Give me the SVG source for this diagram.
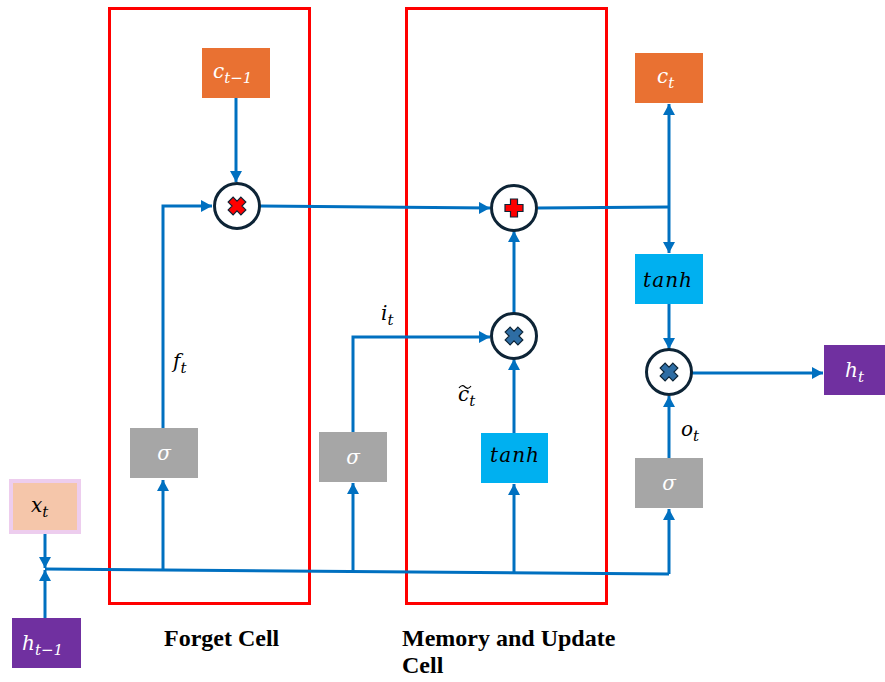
<svg xmlns="http://www.w3.org/2000/svg" width="885" height="682" viewBox="0 0 885 682">
  <style>
    .wire { fill: none; stroke: #0070C0; stroke-width: 3; }
    .cell { fill: none; stroke: #FF0000; stroke-width: 3; }
    .op { fill: #FFFFFF; stroke: #0D2436; stroke-width: 3; }
    .orange { fill: #E97132; }
    .gray { fill: #A6A6A6; }
    .cyan { fill: #00B0F0; }
    .purple { fill: #7030A0; }
    .math { font-family: "DejaVu Serif", "Liberation Serif", serif; font-style: italic; font-size: 20px; }
    .sub { font-size: 15px; }
    .white { fill: #FFFFFF; }
    .black { fill: #000000; }
    .caption { font-family: "Liberation Serif", "Times New Roman", serif; font-weight: bold; font-size: 24px; fill: #000000; }
  </style>
  <defs>
    <marker id="arrow" markerUnits="userSpaceOnUse" markerWidth="12" markerHeight="12" refX="11" refY="6" orient="auto">
      <path d="M0,0 L11,6 L0,12 z" fill="#0070C0"/>
    </marker>
    <polygon id="plusShape" points="-3.5,-9 3.5,-9 3.5,-3.5 9,-3.5 9,3.5 3.5,3.5 3.5,9 -3.5,9 -3.5,3.5 -9,3.5 -9,-3.5 -3.5,-3.5" stroke="#0D2436" stroke-width="1.2"/>
  </defs>

  <!-- cell outlines -->
  <g id="forget-cell">
    <rect class="cell" x="109.5" y="8.5" width="200" height="595"/>
    <text class="caption" x="164" y="646">Forget Cell</text>
  </g>
  <g id="memory-cell">
    <rect class="cell" x="406.5" y="8.5" width="200" height="595"/>
    <text class="caption" x="402" y="646">Memory and Update</text>
    <text class="caption" x="402" y="673">Cell</text>
  </g>

  <!-- connectors -->
  <g id="connectors">
    <path class="wire" d="M236,98 V182" marker-end="url(#arrow)"/>
    <path class="wire" d="M163,428 V206 H212" marker-end="url(#arrow)"/>
    <path class="wire" d="M260,206 L490,208" marker-end="url(#arrow)"/>
    <path class="wire" d="M538,208 L669,207"/>
    <path class="wire" d="M669,207 V104" marker-end="url(#arrow)"/>
    <path class="wire" d="M669,207 V253" marker-end="url(#arrow)"/>
    <path class="wire" d="M669,304 V349" marker-end="url(#arrow)"/>
    <path class="wire" d="M692,373 H823" marker-end="url(#arrow)"/>
    <path class="wire" d="M669,458 V396" marker-end="url(#arrow)"/>
    <path class="wire" d="M353,432 V337 H490" marker-end="url(#arrow)"/>
    <path class="wire" d="M514,313 V231" marker-end="url(#arrow)"/>
    <path class="wire" d="M514,433 V359" marker-end="url(#arrow)"/>
    <path class="wire" d="M45,533 V568" marker-end="url(#arrow)"/>
    <path class="wire" d="M45,618 V570" marker-end="url(#arrow)"/>
    <path class="wire" d="M45,569 L669,574"/>
    <path class="wire" d="M163,571 V480" marker-end="url(#arrow)"/>
    <path class="wire" d="M353,572 V483" marker-end="url(#arrow)"/>
    <path class="wire" d="M514,573 V484" marker-end="url(#arrow)"/>
    <path class="wire" d="M669,574 V509" marker-end="url(#arrow)"/>
  </g>

  <!-- wire labels -->
  <g id="labels" class="math black">
    <text x="173" y="368">f<tspan class="sub" dy="5">t</tspan></text>
    <text x="381" y="320">i<tspan class="sub" dy="5">t</tspan></text>
    <text x="458" y="401">c<tspan class="sub" dy="5">t</tspan></text>
    <path d="M459,388 q3,-4 6,-1 q3,3 6,-1" fill="none" stroke="#000" stroke-width="1.2"/>
    <text x="681" y="436">o<tspan class="sub" dy="5">t</tspan></text>
  </g>

  <!-- nodes -->
  <g id="c-prev">
    <rect class="orange" x="202" y="48" width="68" height="50"/>
    <text class="math white" x="213" y="78">c<tspan class="sub" dy="5">t−1</tspan></text>
  </g>
  <g id="forget-mult">
    <circle class="op" cx="237" cy="206" r="22.5"/>
    <use href="#plusShape" transform="translate(237,206) rotate(45)" fill="#FF0000"/>
  </g>
  <g id="sigma-forget">
    <rect class="gray" x="130" y="428" width="68" height="50"/>
    <text class="math white" x="164" y="460" text-anchor="middle">σ</text>
  </g>
  <g id="update-add">
    <circle class="op" cx="514" cy="208" r="22.5"/>
    <use href="#plusShape" transform="translate(514,208)" fill="#FF0000"/>
  </g>
  <g id="update-mult">
    <circle class="op" cx="514" cy="336" r="22.5"/>
    <use href="#plusShape" transform="translate(514,336) rotate(45)" fill="#2E6DA4"/>
  </g>
  <g id="sigma-input">
    <rect class="gray" x="319" y="432" width="68" height="50"/>
    <text class="math white" x="353" y="464" text-anchor="middle">σ</text>
  </g>
  <g id="tanh-candidate">
    <rect class="cyan" x="481" y="433" width="67" height="50"/>
    <text class="math black" x="490" y="462" textLength="49">tanh</text>
  </g>
  <g id="c-out">
    <rect class="orange" x="635" y="53" width="68" height="50"/>
    <text class="math white" x="657" y="83">c<tspan class="sub" dy="5">t</tspan></text>
  </g>
  <g id="tanh-out">
    <rect class="cyan" x="635" y="254" width="68" height="50"/>
    <text class="math black" x="643" y="287" textLength="49">tanh</text>
  </g>
  <g id="output-mult">
    <circle class="op" cx="669" cy="372" r="22.5"/>
    <use href="#plusShape" transform="translate(669,372) rotate(45)" fill="#2E6DA4"/>
  </g>
  <g id="h-out">
    <rect class="purple" x="824" y="345" width="61" height="50"/>
    <text class="math white" x="845" y="377">h<tspan class="sub" dy="5">t</tspan></text>
  </g>
  <g id="sigma-output">
    <rect class="gray" x="635" y="458" width="68" height="50"/>
    <text class="math white" x="669" y="490" text-anchor="middle">σ</text>
  </g>
  <g id="x-in">
    <rect x="11" y="481" width="68" height="51" fill="#F5C6AA" stroke="#EDCDEE" stroke-width="4"/>
    <text class="math black" x="31" y="512">x<tspan class="sub" dy="5">t</tspan></text>
  </g>
  <g id="h-prev">
    <rect class="purple" x="12" y="618" width="69" height="50"/>
    <text class="math white" x="22" y="650">h<tspan class="sub" dy="5">t−1</tspan></text>
  </g>
</svg>
